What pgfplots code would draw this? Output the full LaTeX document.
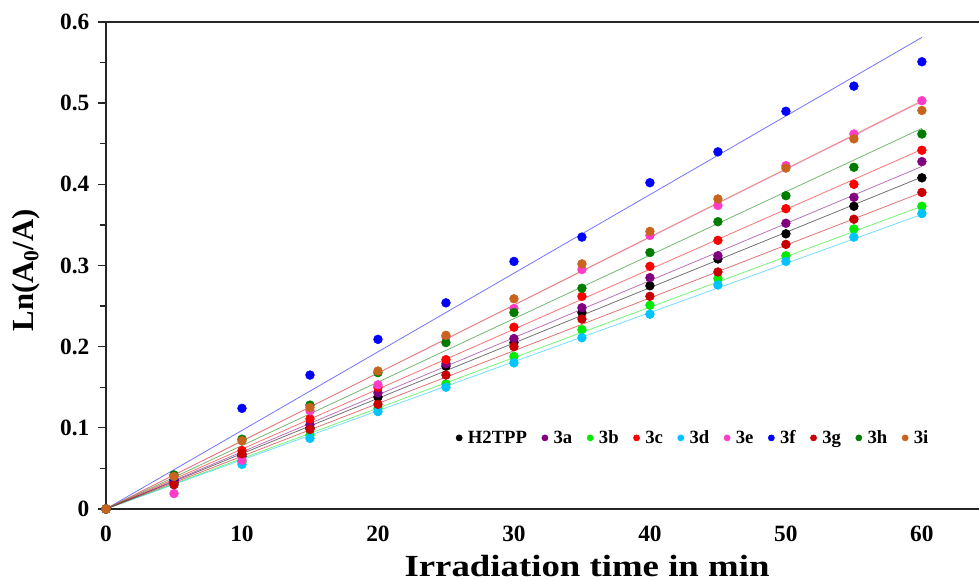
\documentclass[border=0pt]{standalone}
\usepackage{fontspec}
\setmainfont{Liberation Serif}
\usepackage{pgfplots}
\pgfplotsset{compat=1.18}
\usetikzlibrary{calc}

\definecolor{cH}{RGB}{0,0,0}
\definecolor{ca}{RGB}{128,0,128}
\definecolor{cb}{RGB}{0,235,0}
\definecolor{cc}{RGB}{255,0,0}
\definecolor{cd}{RGB}{0,195,255}
\definecolor{ce}{RGB}{255,60,200}
\definecolor{cf}{RGB}{0,0,255}
\definecolor{cg}{RGB}{200,0,0}
\definecolor{ch}{RGB}{0,125,0}
\definecolor{ci}{RGB}{200,100,30}

% x = irradiation time, y = Ln(A0/A)
\pgfplotstableread{
t   H     a     b     c     d     e     f     g     h     i
0   0     0     0     0     0     0     0     0     0     0
5   0.032 0.033 0.031 0.035 0.030 0.019 0.036 0.030 0.042 0.040
10  0.065 0.067 0.058 0.072 0.055 0.060 0.124 0.068 0.086 0.084
15  0.100 0.104 0.091 0.111 0.087 0.121 0.165 0.098 0.128 0.125
20  0.138 0.143 0.124 0.150 0.120 0.153 0.209 0.129 0.168 0.170
25  0.176 0.179 0.154 0.184 0.150 0.212 0.254 0.165 0.205 0.214
30  0.205 0.210 0.188 0.224 0.180 0.247 0.305 0.200 0.242 0.259
35  0.242 0.248 0.221 0.262 0.211 0.295 0.335 0.234 0.272 0.302
40  0.275 0.285 0.251 0.299 0.240 0.337 0.402 0.262 0.316 0.342
45  0.308 0.312 0.284 0.331 0.276 0.374 0.440 0.292 0.354 0.382
50  0.339 0.352 0.312 0.370 0.305 0.423 0.490 0.326 0.386 0.420
55  0.373 0.384 0.345 0.400 0.335 0.462 0.521 0.357 0.421 0.456
60  0.408 0.428 0.373 0.442 0.364 0.503 0.551 0.390 0.462 0.491
}\pts

% linear fits through the origin, end value at t = 60
\pgfplotstableread{
t   H     a     b     c     d     e     f     g     h     i
0   0     0     0     0     0     0     0     0     0     0
60  0.409 0.422 0.373 0.443 0.363 0.502 0.581 0.390 0.469 0.503
}\fits

\begin{document}
\begin{tikzpicture}
\begin{axis}[
    scale only axis, width=654.75pt, height=365.25pt,
    xmin=0, xmax=64.2, ymin=0, ymax=0.6,
    axis x line*=bottom, axis y line*=left,
    axis line style={line width=1.1pt, black!85},
    xtick={0,10,...,60}, ytick={0,0.1,...,0.6},
    minor y tick num=1,
    x tick style={draw=none},
    y tick style={line width=1pt, black!85},
    tick align=outside,
    major tick length=6pt, minor tick length=4.5pt,
    /pgf/number format/assume math mode=true,
    tick label style={font=\bfseries\fontsize{17.5}{19}\selectfont},
    yticklabel style={/pgf/number format/fixed, /pgf/number format/precision=1, xshift=-3pt},
    xticklabel style={yshift=-3pt},
    xlabel={Irradiation time in min},
    ylabel={Ln(A\textsubscript{0}/A)},
    label style={font=\bfseries\fontsize{23}{25}\selectfont},
    xlabel style={at={(0.551,0)}, anchor=north, yshift=-31pt, xscale=1.2},
    ylabel style={at={(0,0.49)}, anchor=south, yshift=46pt},
    legend columns=10,
    legend style={at={(0.95,0.146)}, anchor=east, draw=none, fill=none,
        font=\bfseries\fontsize{14}{16}\selectfont,
        /tikz/every even column/.append style={column sep=8pt}},
    legend image code/.code={\fill (0.12cm,0cm) circle (2.3pt);
        \path[draw=none, fill=none] (0cm,0cm) rectangle (0.28cm,0cm);},
    clip=false,
]
\foreach \s/\c in {H/cH,a/ca,b/cb,c/cc,d/cd,e/ce,f/cf,g/cg,h/ch,i/ci}{
  \edef\tmp{\noexpand\addplot[\c, opacity=0.55, line width=0.6pt, forget plot] table[x=t,y=\s] {\noexpand\fits};}
  \tmp
}
\addplot[only marks, mark=*, mark size=3.3pt, cH] table[x=t,y=H] {\pts};
\addlegendentry{H2TPP}
\addplot[only marks, mark=*, mark size=3.3pt, ca] table[x=t,y=a] {\pts};
\addlegendentry{3a}
\addplot[only marks, mark=*, mark size=3.3pt, cb] table[x=t,y=b] {\pts};
\addlegendentry{3b}
\addplot[only marks, mark=*, mark size=3.3pt, cc] table[x=t,y=c] {\pts};
\addlegendentry{3c}
\addplot[only marks, mark=*, mark size=3.3pt, cd] table[x=t,y=d] {\pts};
\addlegendentry{3d}
\addplot[only marks, mark=*, mark size=3.3pt, ce] table[x=t,y=e] {\pts};
\addlegendentry{3e}
\addplot[only marks, mark=*, mark size=3.3pt, cf] table[x=t,y=f] {\pts};
\addlegendentry{3f}
\addplot[only marks, mark=*, mark size=3.3pt, cg] table[x=t,y=g] {\pts};
\addlegendentry{3g}
\addplot[only marks, mark=*, mark size=3.3pt, ch] table[x=t,y=h] {\pts};
\addlegendentry{3h}
\addplot[only marks, mark=*, mark size=3.3pt, ci] table[x=t,y=i] {\pts};
\addlegendentry{3i}
% top frame line
\draw[line width=1.4pt, black!85] (rel axis cs:0,1) -- (rel axis cs:1,1);
\coordinate (ll) at (rel axis cs:0,0);
\coordinate (ur) at (rel axis cs:1,1);
\end{axis}
\pgfresetboundingbox
\path[use as bounding box] ($(ll)+(-79.5pt,-54pt)$) rectangle ($(ur)+(0pt,16.5pt)$);
\end{tikzpicture}
\end{document}
